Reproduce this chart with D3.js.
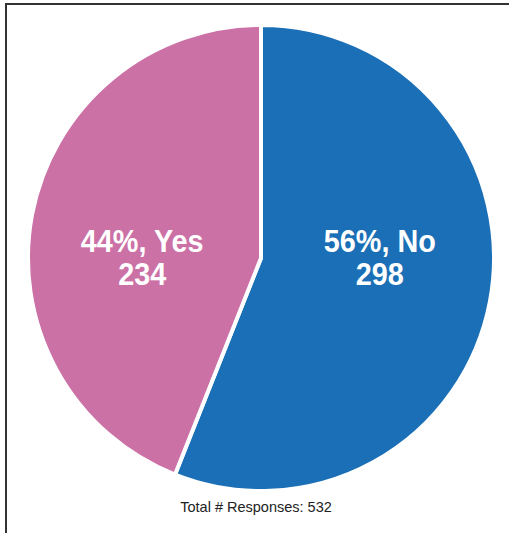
<!DOCTYPE html>
<html>
<head>
<meta charset="utf-8">
<script src="https://cdn.jsdelivr.net/npm/d3@7"></script>
<style>
  html, body { margin: 0; padding: 0; background: #fff; }
  svg { display: block; }
</style>
</head>
<body>
<svg id="chart" width="509" height="533"></svg>
<script>
// Survey responses
const categories = ["No", "Yes"];
const counts = [298, 234];
const colors = ["#1a6fb6", "#cb71a6"];
const totalLabel = "Total # Responses: ";

const width = 509, height = 533;
const cx = 261, cy = 258, radius = 233;

const svg = d3.select("#chart");

// frame lines (left and top)
svg.append("path")
  .attr("d", `M6,${height} V4 H${width}`)
  .attr("fill", "none")
  .attr("stroke", "#333")
  .attr("stroke-width", 2);

const total = d3.sum(counts);
const data = categories.map((c, i) => ({ cat: c, value: counts[i], color: colors[i] }));

const pie = d3.pie().value(d => d.value).sort(null);
const arcs = pie(data);

const arc = d3.arc().innerRadius(0).outerRadius(radius);
const labelArc = d3.arc().innerRadius(121).outerRadius(121);

const g = svg.append("g").attr("transform", `translate(${cx},${cy})`);

g.selectAll("path.slice")
  .data(arcs)
  .join("path")
  .attr("class", "slice")
  .attr("d", arc)
  .attr("fill", d => d.data.color)
  .attr("stroke", "#fff")
  .attr("stroke-width", 4)
  .attr("stroke-linejoin", "miter");

// slice labels: percentage + category, count underneath (slightly condensed)
const labels = g.selectAll("g.lbl")
  .data(arcs)
  .join("g")
  .attr("class", "lbl")
  .attr("transform", d => `translate(${labelArc.centroid(d)[0]},0) scale(0.9,1)`)
  .append("text")
  .attr("text-anchor", "middle")
  .attr("fill", "#fff")
  .attr("font-family", "Liberation Sans, Arial, Helvetica, sans-serif")
  .attr("font-weight", "bold")
  .attr("font-size", 32);

labels.append("tspan")
  .attr("x", 0)
  .attr("y", -6)
  .text(d => `${Math.round(d.data.value / total * 100)}%, ${d.data.cat}`);
labels.append("tspan")
  .attr("x", 0)
  .attr("y", 27)
  .text(d => d.data.value);

svg.append("text")
  .attr("x", 256)
  .attr("y", 512)
  .attr("text-anchor", "middle")
  .attr("fill", "#222")
  .attr("font-family", "Liberation Sans, Arial, Helvetica, sans-serif")
  .attr("font-size", 14.5)
  .text(totalLabel + total);
</script>
</body>
</html>
